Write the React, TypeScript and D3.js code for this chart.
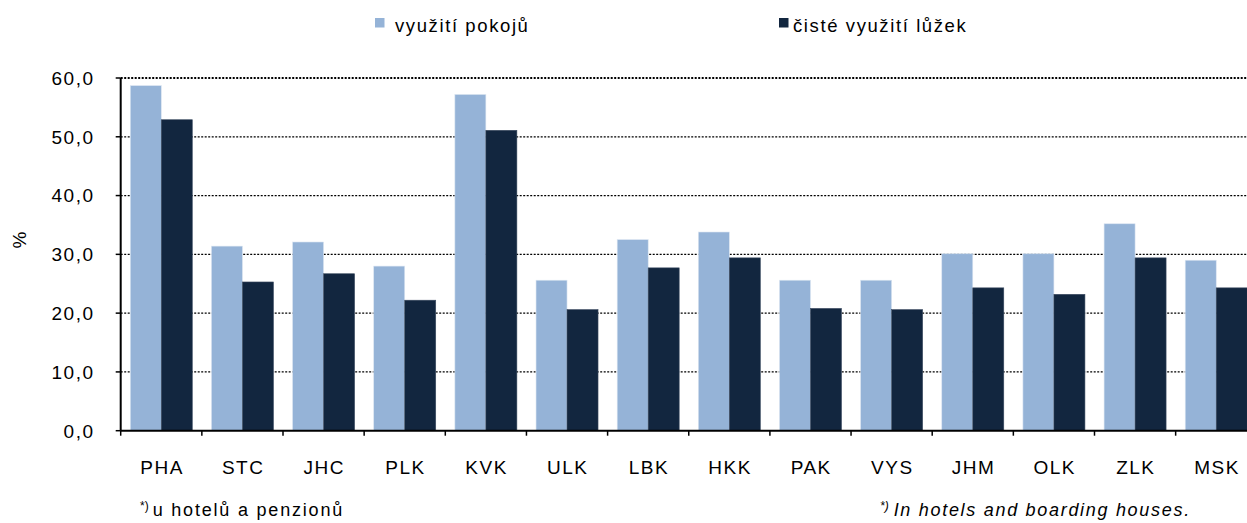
import React, { useEffect } from "react";
import * as d3 from "d3";

const categories = ["PHA", "STC", "JHC", "PLK", "KVK", "ULK", "LBK", "HKK", "PAK", "VYS", "JHM", "OLK", "ZLK", "MSK"];
const roomUse = [58.7, 31.4, 32.1, 28.0, 57.2, 25.6, 32.5, 33.8, 25.6, 25.6, 30.1, 30.1, 35.2, 29.0];
const bedUse = [52.9, 25.3, 26.7, 22.2, 51.1, 20.6, 27.7, 29.4, 20.8, 20.6, 24.3, 23.2, 29.4, 24.3];
const seriesNames = ["využití pokojů", "čisté využití lůžek"];
const yTicks = [0, 10, 20, 30, 40, 50, 60];

const W = 1247;
const H = 523;
const LIGHT = "#95B3D7";
const DARK = "#12263F";
const FONT = "'Liberation Sans', Arial, sans-serif";

export default function App() {
  useEffect(() => {
    document.body.style.margin = "0";
  }, []);

  const left = 120.7;
  const step = 81.15;
  const x = d3
    .scaleBand<string>()
    .domain(categories)
    .range([left, left + step * categories.length])
    .paddingInner(0.236)
    .paddingOuter(0.118);
  const inner = d3.scaleBand<number>().domain([0, 1]).range([0, x.bandwidth()]);
  const y = d3.scaleLinear().domain([0, 60]).range([430.7, 78]);
  const fmt = (v: number) => v.toFixed(1).replace(".", ",");
  const series = [roomUse, bedUse];
  const colors = [LIGHT, DARK];

  return (
    <svg
      width={W}
      height={H}
      style={{ position: "absolute", left: 0, top: 0, background: "#fff" }}
      fontFamily={FONT}
    >
      {/* gridlines */}
      {yTicks.filter((t) => t > 0).map((t) => (
        <line
          key={"g" + t}
          x1={left}
          x2={W}
          y1={y(t)}
          y2={y(t)}
          stroke="#000"
          strokeWidth={t === 60 ? 2 : 1.3}
          strokeDasharray="2 1.5"
        />
      ))}
      {/* bars */}
      {series.map((vals, si) =>
        categories.map((c, i) => (
          <rect
            key={si + "-" + c}
            x={(x(c) as number) + (inner(si) as number)}
            y={y(vals[i])}
            width={inner.bandwidth()}
            height={y(0) - y(vals[i])}
            fill={colors[si]}
            stroke={si === 0 ? "#dbe5f1" : "#3a4a60"}
            strokeWidth={0.6}
          />
        ))
      )}
      {/* y axis */}
      <line x1={left} x2={left} y1={y(60)} y2={y(0)} stroke="#000" strokeWidth={2} />
      {yTicks.map((t) => (
        <g key={"yt" + t}>
          <line x1={left - 5} x2={left} y1={y(t)} y2={y(t)} stroke="#000" strokeWidth={1.5} />
          <text
            x={94.5}
            y={y(t)}
            dy="0.36em"
            textAnchor="end"
            fontSize={19}
            letterSpacing={1.5}
            fill="#000"
          >
            {fmt(t)}
          </text>
        </g>
      ))}
      <text
        transform={`translate(${26},${240}) rotate(-90)`}
        textAnchor="middle"
        fontSize={19}
        fill="#000"
      >
        %
      </text>
      {/* x axis */}
      <line x1={left} x2={W} y1={y(0)} y2={y(0)} stroke="#000" strokeWidth={2} />
      {categories.map((c, i) => {
        const x0 = left + step * i;
        return (
          <line key={"xt" + c} x1={x0} x2={x0} y1={y(0)} y2={y(0) + 5} stroke="#000" strokeWidth={1.5} />
        );
      })}
      {categories.map((c) => (
        <text
          key={"xl" + c}
          x={(x(c) as number) + x.bandwidth() / 2 + 0.75}
          y={474}
          textAnchor="middle"
          fontSize={19}
          letterSpacing={1.5}
          fill="#000"
        >
          {c}
        </text>
      ))}
      {/* legend */}
      <rect x={375} y={18} width={9.5} height={9.5} fill={LIGHT} />
      <text x={395} y={32} fontSize={18.5} letterSpacing={1.6} fill="#000">
        {seriesNames[0]}
      </text>
      <rect x={779} y={18} width={9.5} height={9.5} fill={DARK} />
      <text x={793} y={32} fontSize={18.5} letterSpacing={1.6} fill="#000">
        {seriesNames[1]}
      </text>
      {/* footnotes */}
      <text x={140} y={516} fontSize={18} letterSpacing={1.8} fill="#000">
        <tspan fontSize={12} letterSpacing={0} dy={-6}>*)</tspan>
        <tspan dy={6} dx={4}>u hotelů a penzionů</tspan>
      </text>
      <text x={880} y={516} fontSize={18} letterSpacing={1.7} fill="#000" fontStyle="italic">
        <tspan fontSize={12} letterSpacing={0} dy={-6}>*)</tspan>
        <tspan dy={6} dx={5}>In hotels and boarding houses.</tspan>
      </text>
    </svg>
  );
}
